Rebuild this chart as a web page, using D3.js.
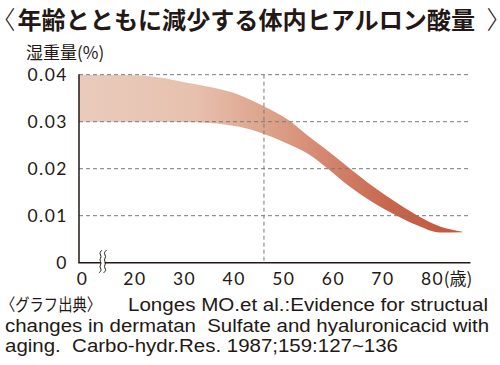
<!DOCTYPE html>
<html><head><meta charset="utf-8">
<script src="https://cdn.jsdelivr.net/npm/d3@7"></script>
<style>body{margin:0;background:#fff}svg{display:block}.pre{white-space:pre}.half{font-feature-settings:"halt" 1}</style>
</head><body><svg id="c" width="500" height="365"></svg>
<script>
// ---- data ----
const titleText = "年齢とともに減少する体内ヒアルロン酸量";
const yLabel = "湿重量(%)";
const xUnit = "(歳)";
const ages  = [0, 20, 32, 41, 46, 51, 55, 59, 63, 68, 73, 77, 81.5, 86];
const upper = [0.0400, 0.0399, 0.0380, 0.0357, 0.0333, 0.0303, 0.0269, 0.0237, 0.0203, 0.0162, 0.0126, 0.0100, 0.0077, 0.0066];
const lower = [0.0300, 0.0300, 0.0299, 0.0289, 0.0274, 0.0252, 0.0231, 0.0199, 0.0164, 0.0128, 0.0099, 0.0079, 0.0064, 0.0065];
const xTicks = [0, 20, 30, 40, 50, 60, 70, 80];
const yTicks = [0, 0.01, 0.02, 0.03, 0.04];
const yTickLabels = ["0", "0.01", "0.02", "0.03", "0.04"];
const markerAge = 46;
const sourceLines = [
  "Longes MO.et al.:Evidence for structual",
  "changes in dermatan  Sulfate and hyaluronicacid with",
  "aging.  Carbo-hydr.Res. 1987;159:127~136"
];
const sourceHead = "〈グラフ出典〉";

// ---- setup ----
const svg = d3.select("#c");
const ink = "#231815";
const cjk = "'Noto Sans CJK JP', sans-serif";
const x = d3.scaleLinear().domain([0, 20, 80]).range([79, 135, 432.6]);
const y = d3.scaleLinear().domain([0, 0.04]).range([262.7, 74.7]);

// gradient
const defs = svg.append("defs");
const grad = defs.append("linearGradient").attr("id", "g")
  .attr("gradientUnits", "userSpaceOnUse")
  .attr("x1", x(0)).attr("x2", x(d3.max(ages))).attr("y1", 0).attr("y2", 0);
[[0, "#e9cbbc"], [0.3, "#e7c1ae"], [0.5, "#dca18a"], [0.65, "#d4856e"], [0.82, "#c7644a"], [1, "#c2573d"]]
  .forEach(([o, c]) => grad.append("stop").attr("offset", o).attr("stop-color", c));

// band
const band = ages.map((a, i) => ({a, u: upper[i], l: lower[i]}));
svg.append("path").datum(band)
  .attr("fill", "url(#g)")
  .attr("d", d3.area().x(d => x(d.a)).y0(d => y(d.l)).y1(d => y(d.u)).curve(d3.curveMonotoneX));

// grid
svg.append("g").selectAll("line").data(yTicks.filter(v => v > 0)).join("line")
  .attr("x1", x(0)).attr("x2", 470.5)
  .attr("y1", d => y(d)).attr("y2", d => y(d))
  .attr("stroke", "#7a7a7a").attr("stroke-width", 1).attr("stroke-dasharray", "4,3");
svg.append("line")
  .attr("x1", x(markerAge)).attr("x2", x(markerAge))
  .attr("y1", y(0.04)).attr("y2", y(0))
  .attr("stroke", "#7a7a7a").attr("stroke-width", 1).attr("stroke-dasharray", "4,3");

// axes
svg.append("line").attr("x1", x(0)).attr("x2", x(0)).attr("y1", y(0.04) - 0.5).attr("y2", y(0))
  .attr("stroke", ink).attr("stroke-width", 1.5);
svg.append("line").attr("x1", x(0) - 0.75).attr("x2", 470.5).attr("y1", y(0)).attr("y2", y(0))
  .attr("stroke", ink).attr("stroke-width", 1.5);

// break mark
const bx = 101;
svg.append("rect").attr("x", bx).attr("y", y(0) - 2).attr("width", 3.5).attr("height", 4).attr("fill", "#fff");
function squiggle(cx) {
  const pts = [];
  for (let k = 0, yy = 250; yy <= 273.5; yy += 3.3, k++) pts.push([cx + (k % 2 ? -1.6 : 1.6), yy]);
  return d3.line().curve(d3.curveBasis)(pts);
}
[bx - 0.5, bx + 4].forEach(cx => svg.append("path").attr("d", squiggle(cx))
  .attr("fill", "none").attr("stroke", ink).attr("stroke-width", 1));

// y tick labels
svg.append("g").selectAll("text").data(yTicks).join("text")
  .attr("x", 68).attr("y", d => y(d) + 6)
  .attr("text-anchor", "end")
  .attr("font-family", "Lato, sans-serif").attr("font-size", 17.5).attr("letter-spacing", 1.5)
  .attr("fill", ink)
  .text((d, i) => yTickLabels[i]);

// x tick labels
const xt = svg.append("g").selectAll("text").data(xTicks).join("text")
  .attr("x", d => x(d) + (d === 0 ? 3.5 : 0)).attr("y", 284.5)
  .attr("text-anchor", "middle")
  .attr("font-family", "Lato, sans-serif").attr("font-size", 17.5).attr("letter-spacing", 1.5)
  .attr("fill", ink)
  .text(d => d);
const last = xt.filter(d => d === 80).node();
const lb = last.getBBox();
svg.append("text").attr("x", lb.x + lb.width - 0.5).attr("y", 284.5)
  .attr("font-family", cjk).attr("font-size", 17).attr("fill", ink).text(xUnit);

// y label
svg.append("text").attr("x", 26).attr("y", 59)
  .attr("font-family", cjk).attr("font-size", 17).attr("fill", ink).text(yLabel);

// title (one text element: brackets + title)
const tt = svg.append("text").attr("y", 29)
  .attr("font-family", cjk).attr("fill", ink);
tt.append("tspan").attr("class", "half").attr("x", 3).attr("font-size", 25).attr("font-weight", 300).text("〈");
tt.append("tspan").attr("x", 17.5).attr("dy", -0.5).attr("font-size", 24.1).attr("font-weight", 700).text(titleText);
tt.append("tspan").attr("class", "half").attr("x", 486.5).attr("dy", 0.5).attr("font-size", 25).attr("font-weight", 300).text("〉");

// source
svg.append("text").attr("x", 1).attr("y", 311)
  .attr("font-family", cjk).attr("font-size", 17).attr("fill", ink)
  .attr("textLength", 100).attr("lengthAdjust", "spacingAndGlyphs").text(sourceHead);
const srcX = [128, 5, 5];
const srcW = [360, 484, 393];
sourceLines.forEach((s, i) => svg.append("text").attr("class", "pre")
  .attr("x", srcX[i]).attr("y", 311 + i * 20.5)
  .attr("font-family", "'Liberation Sans', Arial, sans-serif").attr("font-size", 17.5).attr("fill", ink)
  .attr("textLength", srcW[i]).attr("lengthAdjust", "spacingAndGlyphs")
  .text(s));
</script></body></html>
